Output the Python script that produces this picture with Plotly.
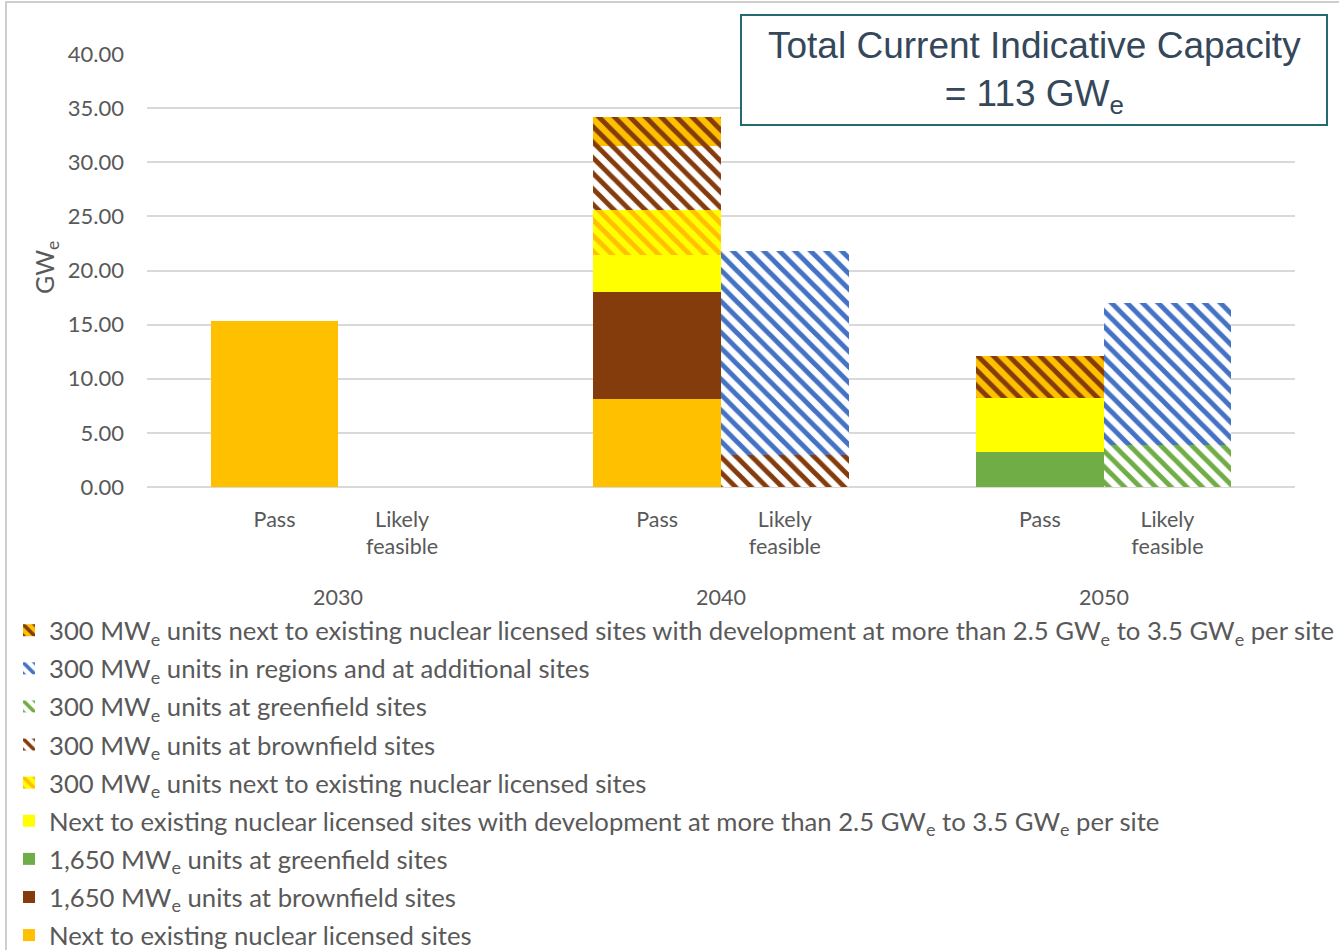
import plotly.graph_objects as go

years = ["2030", "2040", "2050"]
statuses = ["Pass", "Likely<br>feasible"]

series_names = [
    "Next to existing nuclear licensed sites",
    "1,650 MW<sub>e</sub> units at brownfield sites",
    "1,650 MW<sub>e</sub> units at greenfield sites",
    "Next to existing nuclear licensed sites with development at more than 2.5 GW<sub>e</sub> to 3.5 GW<sub>e</sub> per site",
    "300 MW<sub>e</sub> units next to existing nuclear licensed sites",
    "300 MW<sub>e</sub> units at brownfield sites",
    "300 MW<sub>e</sub> units at greenfield sites",
    "300 MW<sub>e</sub> units in regions and at additional sites",
    "300 MW<sub>e</sub> units next to existing nuclear licensed sites with development at more than 2.5 GW<sub>e</sub> to 3.5 GW<sub>e</sub> per site",
]

# order of values: 2030 Pass, 2030 Likely, 2040 Pass, 2040 Likely, 2050 Pass, 2050 Likely
next_existing = [15.3, 0, 8.1, 0, 0, 0]
brownfield_1650 = [0, 0, 9.9, 0, 0, 0]
greenfield_1650 = [0, 0, 0, 0, 3.2, 0]
next_existing_dev = [0, 0, 3.4, 0, 5.0, 0]
smr_next_existing = [0, 0, 4.2, 0, 0, 0]
smr_brownfield = [0, 0, 5.9, 3.0, 0, 0]
smr_greenfield = [0, 0, 0, 0, 0, 3.9]
smr_regions = [0, 0, 0, 18.8, 0, 13.1]
smr_next_existing_dev = [0, 0, 2.7, 0, 3.9, 0]

series_values = [next_existing, brownfield_1650, greenfield_1650, next_existing_dev,
                 smr_next_existing, smr_brownfield, smr_greenfield, smr_regions,
                 smr_next_existing_dev]

ORANGE = "#FFC000"
BROWN = "#843C0C"
GREEN = "#70AD47"
YELLOW = "#FFFF00"
BLUE = "#4472C4"
WHITE = "#FFFFFF"

# (fill colour, pattern fg, pattern bg) ; None pattern -> solid
styles = [
    (ORANGE, None, None),
    (BROWN, None, None),
    (GREEN, None, None),
    (YELLOW, None, None),
    (YELLOW, ORANGE, YELLOW),
    (WHITE, BROWN, WHITE),
    (WHITE, GREEN, WHITE),
    (WHITE, BLUE, WHITE),
    (ORANGE, BROWN, ORANGE),
]

x_pos = []
for g, _ in enumerate(years):
    for s, _ in enumerate(statuses):
        x_pos.append(3 * g + s + 1)

fig = go.Figure()
n = len(series_names)
for i, (name, vals, (col, fg, bg)) in enumerate(zip(series_names, series_values, styles)):
    marker = dict(color=col, line=dict(width=0))
    if fg is not None:
        marker["pattern"] = dict(shape="\\", fgcolor=fg, bgcolor=bg, size=11,
                                 solidity=0.45, fillmode="replace")
    fig.add_trace(go.Bar(x=x_pos, y=vals, name=name, marker=marker, width=1,
                         legendgroup=f"g{i}", legendrank=100 + n - i))

TXT = "#595959"
FONT = "Lato"

W, H = 1339, 950
L, R, T, B = 147, 44, 54, 463
pw, ph = W - L - R, H - T - B

def px2x(px):
    return (px - L) / pw

def py2y(py):
    return (H - B - py) / ph

tickvals = x_pos
ticktext = statuses * len(years)

fig.update_layout(
    width=W, height=H,
    margin=dict(l=L, r=R, t=T, b=B, pad=0, autoexpand=False),
    barmode="stack", bargap=0,
    paper_bgcolor="white", plot_bgcolor="white",
    font=dict(family=FONT, color=TXT, size=21),
    xaxis=dict(range=[0, 9], tickvals=tickvals, ticktext=ticktext,
               showgrid=False, zeroline=False, showline=False, ticks="",
               tickfont=dict(size=21.5, color=TXT, family=FONT),
               ticklabelstandoff=17, fixedrange=True),
    yaxis=dict(range=[0, 40], dtick=5, tickformat=".2f",
               showgrid=True, gridcolor="#D9D9D9", gridwidth=1.5,
               zeroline=True, zerolinecolor="#D9D9D9", zerolinewidth=1.5,
               tickfont=dict(size=22, color=TXT, family=FONT),
               ticklabelstandoff=22),
    legend=dict(traceorder="grouped", orientation="v",
                xref="container", yref="container",
                x=9 / W, y=1 - 607 / H, xanchor="left", yanchor="top",
                tracegroupgap=1.7,
                font=dict(size=25.7, color=TXT, family=FONT),
                bgcolor="rgba(0,0,0,0)"),
    showlegend=True,
)

# y-axis title
fig.add_annotation(x=px2x(46), y=py2y(268), xref="paper", yref="paper",
                   text="GW<sub>e</sub>", textangle=-90, showarrow=False,
                   font=dict(size=25, color=TXT, family=FONT),
                   xanchor="center", yanchor="middle")

# year labels
for g, yr in enumerate(years):
    fig.add_annotation(x=3 * g + 1.5, xref="x", y=py2y(597), yref="paper",
                       text=yr, showarrow=False,
                       font=dict(size=21.5, color=TXT, family=FONT),
                       xanchor="center", yanchor="middle")

# outer chart frame
fig.add_shape(type="rect", xref="paper", yref="paper",
              x0=px2x(6), x1=px2x(1360), y0=py2y(980), y1=py2y(2),
              line=dict(color="#BFBFBF", width=1.5), fillcolor="rgba(0,0,0,0)",
              layer="below")

# callout box
fig.add_shape(type="rect", xref="paper", yref="paper",
              x0=px2x(741), x1=px2x(1327), y0=py2y(125), y1=py2y(15),
              line=dict(color="#236B73", width=2), fillcolor="white", layer="above")
fig.add_annotation(x=px2x(1034), y=py2y(72), xref="paper", yref="paper",
                   text="Total Current Indicative Capacity<br>= 113 GW<sub>e</sub>",
                   showarrow=False, align="center",
                   font=dict(family="Liberation Sans", size=37, color="#35475A"),
                   xanchor="center", yanchor="middle")

fig.write_html("out.html")
